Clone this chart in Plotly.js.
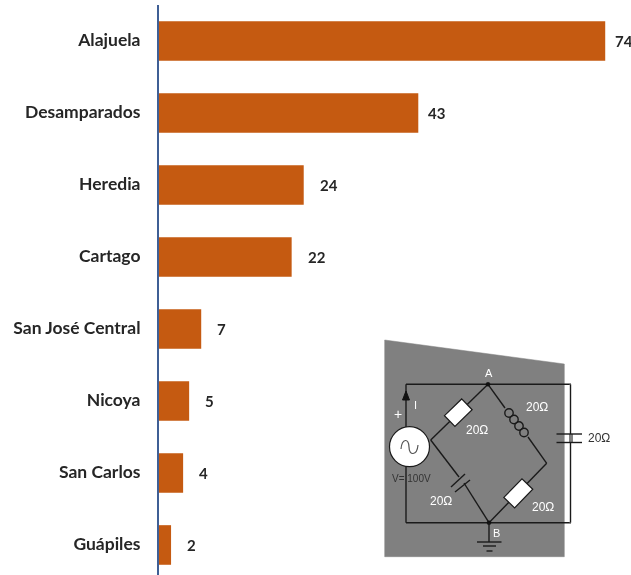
<!DOCTYPE html>
<html><head><meta charset="utf-8">
<script src="https://cdn.plot.ly/plotly-3.0.1.min.js"></script>
<style>html,body{margin:0;padding:0;background:#fff;overflow:hidden}#chart{width:631px;height:575px;filter:blur(0.55px)}</style>
</head><body><div id="chart"></div>
<script>
const categories = ["Alajuela","Desamparados","Heredia","Cartago","San José Central","Nicoya","San Carlos","Guápiles"];
const values = [74,43,24,22,7,5,4,2];
const insetOhmLabels = ["20Ω","20Ω","20Ω","20Ω"];

const L=159,T=5,W=472,H=570;
const X=x=>(x-L)/W, Y=y=>(T+H-y)/H;
const pa=(c)=>({xref:'paper',yref:'paper',...c});
const line=(x0,y0,x1,y1,color='#1a1a1a',w=1.4)=>pa({type:'line',x0:X(x0),y0:Y(y0),x1:X(x1),y1:Y(y1),line:{color,width:w}});
const path=(pts,fill,color='#1a1a1a',w=1.4,close=true)=>pa({type:'path',path:pts.map((p,i)=>(i?'L':'M')+X(p[0]).toFixed(5)+','+Y(p[1]).toFixed(5)).join(' ')+(close?' Z':''),fillcolor:fill,line:{color,width:w}});
const circle=(cx,cy,r,fill,color='#1a1a1a',w=1.4)=>pa({type:'circle',x0:X(cx-r),x1:X(cx+r),y0:Y(cy-r),y1:Y(cy+r),fillcolor:fill,line:{color,width:w}});
function rotRect(cx,cy,hl,hw,ax,ay){const n=Math.hypot(ax,ay);ax/=n;ay/=n;const bx=-ay,by=ax;
  return path([[cx+ax*hl+bx*hw,cy+ay*hl+by*hw],[cx+ax*hl-bx*hw,cy+ay*hl-by*hw],[cx-ax*hl-bx*hw,cy-ay*hl-by*hw],[cx-ax*hl+bx*hw,cy-ay*hl+by*hw]],'#ffffff','#1a1a1a',1.2);}

const shapes=[
  path([[384.7,340],[564.3,364],[564.3,556.7],[384.7,556.7]],'#808080','#808080',0.5),
  line(406,384.3,571,384.3), line(406,522.7,571,522.7),
  line(571,384.3,571,522.7,'#ffffff',2.6), line(570.5,384.3,570.5,522.7),
  line(406,384.3,406,428), line(406,466,406,522.7),
  path([[406,391],[402.5,400],[409.5,400]],'#111111','#111111',1),
  // left branch
  line(488,384.3,430.7,440), line(430.7,440,459,477), line(464,483,489,522.7),
  rotRect(458.3,412.7,12,7.5,57.3,-55.7),
  // right branch
  line(488,384.3,505,408), line(528,437,546.7,463.3), line(546.7,463.3,489,522.7),
  rotRect(518.3,493.3,13,7.5,57.7,-59.4),
  // inductor
  circle(509,413,4.2,'rgba(0,0,0,0)'),circle(514,419.5,4.2,'rgba(0,0,0,0)'),circle(519,426,4.2,'rgba(0,0,0,0)'),circle(524,432.5,4.2,'rgba(0,0,0,0)'),
  // left capacitor (lower)
  line(451,487,465,474), line(455,492,470,480),
  // right capacitor
  line(571,434,571,442.5,'#808080',4), line(556.5,434,582,434), line(556.5,442.5,582,442.5),
  // source
  circle(409.5,446.7,20,'#ffffff','#1a1a1a',1.2),
  pa({type:'path',path:`M${X(401)},${Y(449)} C${X(402)},${Y(438)} ${X(409)},${Y(438)} ${X(409)},${Y(447)} C${X(409)},${Y(456)} ${X(417)},${Y(456)} ${X(418)},${Y(445)}`,line:{color:'#555',width:1.2}}),
  circle(488,384.3,2,'#111111','#111111',0.5), circle(489,522.7,2,'#111111','#111111',0.5),
  // ground
  line(489,522.7,489,542), line(477,542,501.5,542), line(483,546,496,546), line(486.5,551,492.5,551),
];

const t=(x,y,text,color='#fff',size=12,extra={})=>({xref:'paper',yref:'paper',x:X(x),y:Y(y),text,showarrow:false,xanchor:'center',yanchor:'middle',font:{family:'Liberation Sans, Arial, sans-serif',size,color},...extra});
const annotations=[
  ...values.map((v,i)=>({x:v,y:categories[i],xref:'x',yref:'y',text:'<b>'+v+'</b>',showarrow:false,xanchor:'left',yanchor:'middle',xshift:v>24?8:14,yshift:0,font:{family:'Lato, sans-serif',size:15,color:'#262626'}})),
  t(488.5,372.5,'A','#fff',11), t(415,405,'I','#fff',11), t(398,414,'+','#fff',14),
  t(536.5,406.5,insetOhmLabels[0]), t(477,430,insetOhmLabels[1]), t(441,501,insetOhmLabels[2]), t(542.5,507,insetOhmLabels[3]),
  t(599,437.5,'20Ω','#333',12), t(411.5,478.5,'V= 100V','#333',10), t(496.5,532.5,'B','#fff',11),
];

Plotly.newPlot('chart',[{
  type:'bar',orientation:'h',x:values,y:categories,marker:{color:'#C55A11',line:{width:0}},hoverinfo:'skip'
}],{
  width:631,height:575,margin:{l:L,r:0,t:T,b:0},bargap:0.45,showlegend:false,
  paper_bgcolor:'#fff',plot_bgcolor:'#fff',
  xaxis:{range:[0,W/6.03],visible:false,fixedrange:true},
  yaxis:{type:'category',categoryorder:'array',categoryarray:categories,range:[7.417,-0.5],showgrid:false,zeroline:false,
    showline:true,linecolor:'#3F5F95',linewidth:2,ticks:'outside',ticklen:13,tickcolor:'rgba(0,0,0,0)',tickwidth:0,ticklabelshift:1,
    tickfont:{family:'Lato, sans-serif',size:17.5,color:'#262626',weight:700},fixedrange:true},
  shapes,annotations
},{displayModeBar:false,staticPlot:true});
</script></body></html>
